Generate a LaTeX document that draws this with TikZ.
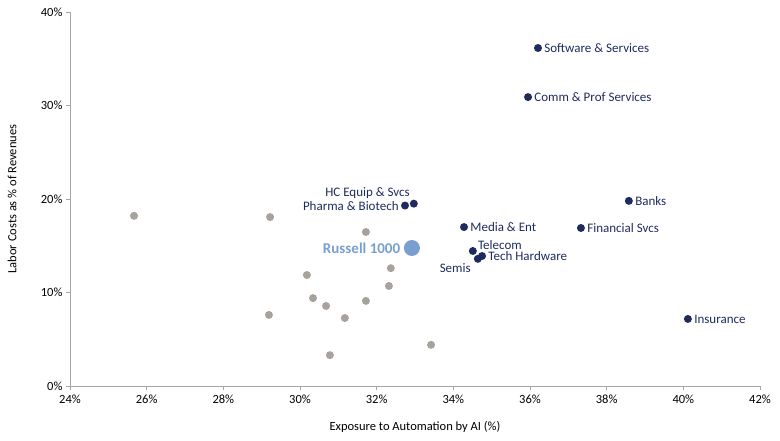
\documentclass[tikz,border=0pt]{standalone}
\usepackage{fontspec}
\setmainfont{Carlito}
\usetikzlibrary{positioning}
\definecolor{navy}{HTML}{1F2B5E}
\definecolor{pebble}{HTML}{A8A29D}
\definecolor{russell}{HTML}{7A9FCF}
\begin{document}
\begin{tikzpicture}[x=1pt, y=1pt, font=\fontsize{13}{15}\selectfont]
    \tikzstyle{sector} = [circle, fill=navy, inner sep=0pt, minimum size=8pt]
    \tikzstyle{other} = [circle, fill=pebble, inner sep=0pt, minimum size=8pt]
    \tikzstyle{tag} = [text=navy, inner sep=2pt, font=\fontsize{13}{15}\selectfont]
    \tikzstyle{tick} = [font=\fontsize{12.5}{14}\selectfont, text=black]
    \useasboundingbox (0,0) rectangle (780,440);

    % Axes
    \draw[gray!70] (70,54) -- (70,428);
    \draw[gray!70] (70,54) -- (760,54);
    \foreach \i in {0,...,9} {
        \pgfmathsetmacro{\px}{70+\i*76.67}
        \pgfmathtruncatemacro{\lab}{24+2*\i}
        \draw[gray!70] (\px,54) -- (\px,50);
        \node[tick, below] at (\px,49) {\lab\%};
    }
    \foreach \i in {0,...,4} {
        \pgfmathsetmacro{\py}{54+\i*93.5}
        \pgfmathtruncatemacro{\lab}{10*\i}
        \draw[gray!70] (70,\py) -- (66,\py);
        \node[tick, left] at (66,\py) {\lab\%};
    }
    \node[tick, rotate=90] (ytitle) at (12,241) {Labor Costs as \% of Revenues};
    \node[tick] (xtitle) at (415,13) {Exposure to Automation by AI (\%)};

    % Other sectors
    \begin{scope}[shift={(70,54)}, x=38.33pt, y=9.35pt]
        \foreach \ex/\lc in {1.67/18.2, 5.22/18.07, 7.72/16.47, 8.37/12.6, 6.18/11.87,
            8.32/10.7, 6.34/9.4, 7.72/9.1, 6.68/8.56, 7.17/7.27, 5.19/7.6, 6.78/3.3, 9.42/4.4}
            \node[other] at (\ex,\lc) {};

        % Labelled sectors
        \node[sector] (soft) at (12.21,36.15) {};
        \node[sector] (comm) at (11.95,30.9) {};
        \node[sector] (pharma) at (8.74,19.3) {};
        \node[sector] (hcequip) at (8.97,19.5) {};
        \node[sector] (banks) at (14.58,19.8) {};
        \node[sector] (media) at (10.28,17.0) {};
        \node[sector] (finsvc) at (13.33,16.9) {};
        \node[sector] (telecom) at (10.51,14.44) {};
        \node[sector] (semis) at (10.64,13.6) {};
        \node[sector] (techhw) at (10.75,13.9) {};
        \node[sector] (insur) at (16.12,7.17) {};
        \node[circle, fill=russell, inner sep=0pt, minimum size=16pt] (russell) at (8.92,14.76) {};
    \end{scope}

    % Labels
    \node[tag, right] at (soft.east) {Software \& Services};
    \node[tag, right] at (comm.east) {Comm \& Prof Services};
    \node[tag, anchor=south east] at ([xshift=4pt, yshift=2pt]pharma.north east) {HC Equip \& Svcs};
    \node[tag, left] at (pharma.west) {Pharma \& Biotech};
    \node[tag, right] at (banks.east) {Banks};
    \node[tag, right] at (media.east) {Media \& Ent};
    \node[tag, right] at (finsvc.east) {Financial Svcs};
    \node[tag, anchor=south west] at ([yshift=-4pt]telecom.north east) {Telecom};
    \node[tag, right] at (techhw.east) {Tech Hardware};
    \node[tag, anchor=north east] at ([xshift=-2pt]semis.south west) {Semis};
    \node[tag, right] at (insur.east) {Insurance};
    \node[left, text=russell, font=\fontsize{15}{17}\selectfont\bfseries] at (russell.west) {Russell 1000};
\end{tikzpicture}
\end{document}
